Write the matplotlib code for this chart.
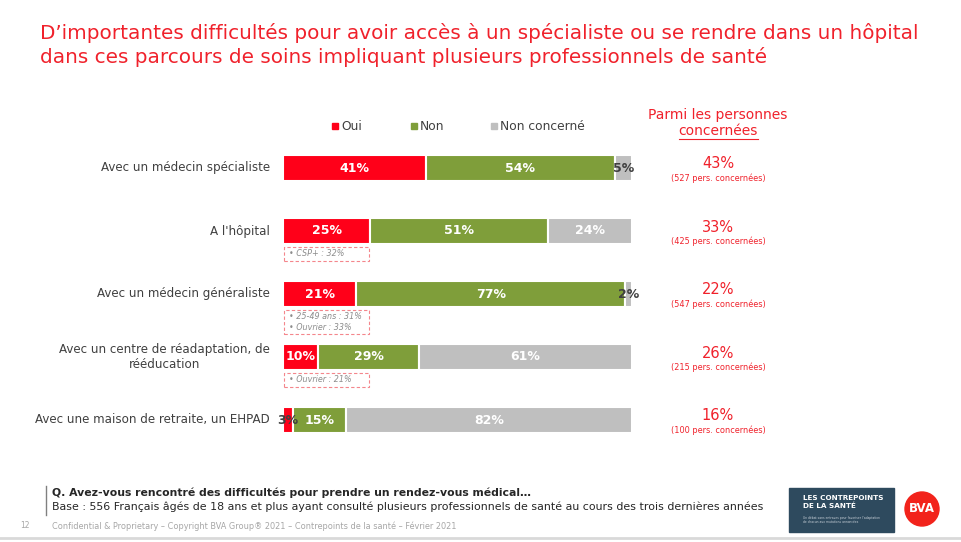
import matplotlib.pyplot as plt
from matplotlib.patches import Rectangle, Ellipse

categories = ["Avec un médecin spécialiste", "A l'hôpital", "Avec un médecin généraliste",
              "Avec un centre de réadaptation, de\nrééducation", "Avec une maison de retraite, un EHPAD"]
oui = [41, 25, 21, 10, 3]
non = [54, 51, 77, 29, 15]
non_concerne = [5, 24, 2, 61, 82]
parmi = ["43%", "33%", "22%", "26%", "16%"]
bases = ["(527 pers. concernées)", "(425 pers. concernées)", "(547 pers. concernées)",
         "(215 pers. concernées)", "(100 pers. concernées)"]
notes = {1: "• CSP+ : 32%", 2: "• 25-49 ans : 31%\n• Ouvrier : 33%", 3: "• Ouvrier : 21%"}

RED = "#FF0019"
GREEN = "#7F9E3A"
GREY = "#BFBFBF"
TITLE_RED = "#F0212B"
DARK = "#404040"

W, H = 962, 542
fig = plt.figure(figsize=(W / 100, H / 100), dpi=100)


def fx(x):
    return x / W


def fy(y):
    return 1 - y / H


# bar area: x 283..632 px, rows centred every 63 px from y=168
ax = fig.add_axes([fx(283), fy(168 + 4 * 63 + 31.5), fx(632) - fx(283), (5 * 63) / H])
ax.set_xlim(0, 100)
ax.set_ylim(4.5, -0.5)
ax.axis("off")

rows = range(len(categories))
bh = 26 / 63
series = [(oui, RED), (non, GREEN), (non_concerne, GREY)]
left = [0] * 5
for vals, col in series:
    ax.barh(rows, vals, left=left, height=bh, color=col, edgecolor="white", linewidth=1.5)
    for i, v in enumerate(vals):
        cx = left[i] + v / 2
        tc = "white" if v >= 8 else DARK
        ax.text(cx, i, f"{v}%", ha="center", va="center", color=tc,
                fontsize=9, fontweight="bold")
    left = [l + v for l, v in zip(left, vals)]

# category labels
for i, c in enumerate(categories):
    fig.text(fx(270), fy(168 + i * 63), c, ha="right", va="center", fontsize=8.6,
             color=DARK, multialignment="center")

# notes boxes
for i, t in notes.items():
    nlines = t.count("\n") + 1
    top = 168 + i * 63 + 16
    hgt = 14 if nlines == 1 else 24
    fig.patches.append(Rectangle((fx(284), fy(top + hgt)), fx(369) - fx(284), hgt / H,
                                 transform=fig.transFigure, fill=False,
                                 edgecolor="#F4868C", linestyle=(0, (3, 2)), linewidth=0.8))
    fig.text(fx(289), fy(top + hgt / 2), t, ha="left", va="center", fontsize=5.8,
             color="#8C8C8C", style="italic", linespacing=1.3)

# legend
leg = [("Oui", RED, 335), ("Non", GREEN, 414), ("Non concerné", GREY, 494)]
for lab, col, x in leg:
    fig.patches.append(Rectangle((fx(x - 3), fy(129)), 6 / W, 6 / H,
                                 transform=fig.transFigure, color=col))
    fig.text(fx(x + 6), fy(126), lab, ha="left", va="center", fontsize=8.8, color=DARK)

# right column
fig.text(fx(718), fy(115), "Parmi les personnes", ha="center", va="center",
         fontsize=10, color=TITLE_RED)
fig.text(fx(718), fy(131), "concernées", ha="center", va="center",
         fontsize=10, color=TITLE_RED)
fig.lines.append(plt.Line2D([fx(679), fx(758)], [fy(139), fy(139)],
                            transform=fig.transFigure, color=TITLE_RED, linewidth=0.8))
for i in rows:
    fig.text(fx(718), fy(164 + i * 63), parmi[i], ha="center", va="center",
             fontsize=10.5, color=TITLE_RED)
    fig.text(fx(718), fy(178 + i * 63), bases[i], ha="center", va="center",
             fontsize=5.9, color=TITLE_RED)

# title
fig.text(fx(40), fy(33), "D’importantes difficultés pour avoir accès à un spécialiste ou se rendre dans un hôpital",
         ha="left", va="center", fontsize=14.4, color=TITLE_RED)
fig.text(fx(40), fy(57), "dans ces parcours de soins impliquant plusieurs professionnels de santé",
         ha="left", va="center", fontsize=14.4, color=TITLE_RED)

# question / base
fig.lines.append(plt.Line2D([fx(46), fx(46)], [fy(486), fy(515)],
                            transform=fig.transFigure, color="#808080", linewidth=1))
fig.text(fx(52), fy(493), "Q. Avez-vous rencontré des difficultés pour prendre un rendez-vous médical…",
         ha="left", va="center", fontsize=7.8, fontweight="bold", color="#262626")
fig.text(fx(52), fy(507), "Base : 556 Français âgés de 18 ans et plus ayant consulté plusieurs professionnels de santé au cours des trois dernières années",
         ha="left", va="center", fontsize=7.95, color="#262626")
fig.text(fx(20), fy(526), "12", ha="left", va="center", fontsize=5.5, color="#A6A6A6")
fig.text(fx(52), fy(526), "Confidential & Proprietary – Copyright BVA Group® 2021 – Contrepoints de la santé – Février 2021",
         ha="left", va="center", fontsize=5.9, color="#A6A6A6")
fig.lines.append(plt.Line2D([0, 1], [fy(538), fy(538)], transform=fig.transFigure,
                            color="#D9D9D9", linewidth=2))

# logos
fig.patches.append(Rectangle((fx(789), fy(532)), 105 / W, 44 / H,
                             transform=fig.transFigure, color="#2E4A5E"))
fig.text(fx(803), fy(502), "LES CONTREPOINTS\nDE LA SANTÉ", ha="left", va="center",
         fontsize=5.2, fontweight="bold", color="white", linespacing=1.3)
fig.text(fx(803), fy(520), "Un débat sans entraves pour favoriser l'adaptation\nde chacun aux mutations annoncées",
         ha="left", va="center", fontsize=2.2, color="#C8D0D8")
fig.patches.append(Ellipse((fx(922), fy(509)), 34 / W, 34 / H, transform=fig.transFigure,
                           color="#F2231B"))
fig.text(fx(922), fy(509), "BVA", ha="center", va="center", fontsize=8.5,
         fontweight="bold", color="white")

fig.savefig("out.png", dpi=100)
